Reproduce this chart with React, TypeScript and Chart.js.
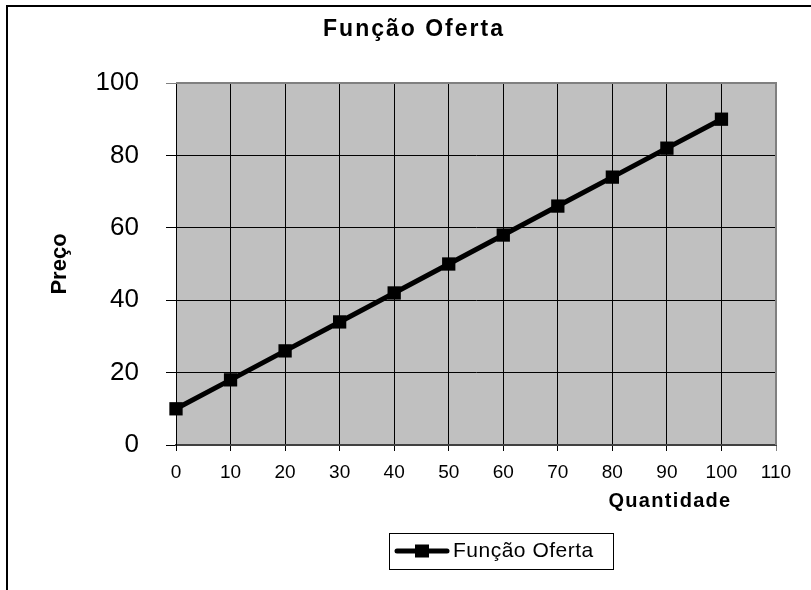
import React, { useEffect, useRef } from "react";
import { Chart, registerables } from "chart.js";

Chart.register(...registerables);

const chartTitle = "Função Oferta";
const seriesLabel = "Função Oferta";
const xAxisTitle = "Quantidade";
const yAxisTitle = "Preço";
const quantities = [0, 10, 20, 30, 40, 50, 60, 70, 80, 90, 100];
const prices = [10, 18, 26, 34, 42, 50, 58, 66, 74, 82, 90];

const FONT = "'Liberation Sans', Arial, sans-serif";

const framePlugin = {
  id: "frame",
  beforeDraw(chart: any) {
    const ctx = chart.ctx;
    ctx.save();
    ctx.fillStyle = "#ffffff";
    ctx.fillRect(0, 0, chart.width, chart.height);
    const a = chart.chartArea;
    ctx.fillStyle = "#c0c0c0";
    ctx.fillRect(a.left, a.top, a.right - a.left, a.bottom - a.top);
    ctx.restore();
  },
  afterDraw(chart: any) {
    const ctx = chart.ctx;
    const a = chart.chartArea;
    ctx.save();
    // outer frame
    ctx.fillStyle = "#000000";
    ctx.fillRect(6, 5, 2, chart.height - 5);
    ctx.fillRect(6, 5, chart.width - 6, 2);
    // plot area border top and right (gray)
    ctx.strokeStyle = "#808080";
    ctx.lineWidth = 2;
    ctx.beginPath();
    ctx.moveTo(a.left, a.top);
    ctx.lineTo(a.right, a.top);
    ctx.lineTo(a.right, a.bottom);
    ctx.stroke();
    ctx.fillStyle = "#000000";
    ctx.textBaseline = "middle";
    // chart title
    ctx.font = `bold 23px ${FONT}`;
    ctx.textAlign = "center";
    (ctx as any).letterSpacing = "2px";
    ctx.fillText(chartTitle, 414, 30);
    // x axis title
    ctx.font = `bold 20px ${FONT}`;
    (ctx as any).letterSpacing = "1.3px";
    ctx.fillText(xAxisTitle, 670, 501);
    // legend
    (ctx as any).letterSpacing = "0px";
    const bx = 389, by = 533, bw = 224, bh = 36;
    ctx.strokeStyle = "#000000";
    ctx.lineWidth = 1;
    ctx.strokeRect(bx + 0.5, by + 0.5, bw, bh);
    const cy = by + bh / 2;
    ctx.lineWidth = 5;
    ctx.lineCap = "round";
    ctx.beginPath();
    ctx.moveTo(397, cy);
    ctx.lineTo(447, cy);
    ctx.stroke();
    ctx.fillRect(415, cy - 6.5, 14, 13);
    ctx.font = `21px ${FONT}`;
    ctx.textAlign = "left";
    (ctx as any).letterSpacing = "0.5px";
    ctx.fillText(chart.data.datasets[0].label, 453, cy);
    (ctx as any).letterSpacing = "0px";
    ctx.restore();
  },
};

export default function App() {
  const ref = useRef<HTMLCanvasElement>(null);
  useEffect(() => {
    document.body.style.margin = "0";
    const canvas = ref.current!;
    const chart = new Chart(canvas, {
      type: "line",
      data: {
        datasets: [
          {
            label: seriesLabel,
            data: quantities.map((q, i) => ({ x: q, y: prices[i] })),
            borderColor: "#000000",
            backgroundColor: "#000000",
            borderWidth: 5,
            pointStyle: "rect",
            pointRadius: 9.4,
            pointBorderWidth: 0,
            pointBackgroundColor: "#000000",
            tension: 0,
            clip: false,
          } as any,
        ],
      },
      options: {
        animation: false,
        responsive: false,
        maintainAspectRatio: false,
        layout: { padding: { left: 0, right: 35, top: 83, bottom: 85 } },
        plugins: {
          legend: { display: false },
          tooltip: { enabled: false },
          title: { display: false },
        },
        scales: {
          x: {
            type: "linear",
            min: 0,
            max: 110,
            ticks: {
              stepSize: 10,
              color: "#000000",
              font: { family: FONT, size: 19 },
              padding: 10,
              maxRotation: 0,
            },
            grid: {
              color: (c: any) => (c.tick && c.tick.value === 110 ? "#808080" : "#000000"),
              lineWidth: 1,
              tickLength: 6,
              drawTicks: true,
            },
            border: { display: true, color: "#404040", width: 2 },
            afterFit: (s: any) => {
              s.height = 60;
            },
          },
          y: {
            min: 0,
            max: 100,
            ticks: {
              stepSize: 20,
              color: "#000000",
              font: { family: FONT, size: 26 },
              padding: 27,
            },
            grid: {
              color: (c: any) => (c.tick && c.tick.value === 100 ? "#808080" : "#000000"),
              lineWidth: 1,
              tickLength: 10,
            },
            border: { display: true, color: "#000000", width: 1 },
            title: {
              display: true,
              text: yAxisTitle,
              color: "#000000",
              font: { family: FONT, size: 22, weight: "bold" },
              padding: { top: 46.8, bottom: 0 },
            },
            afterFit: (s: any) => {
              s.width = 176;
            },
          },
        },
      },
      plugins: [framePlugin],
    });
    return () => chart.destroy();
  }, []);
  return <canvas ref={ref} width={811} height={590} style={{ display: "block" }} />;
}
